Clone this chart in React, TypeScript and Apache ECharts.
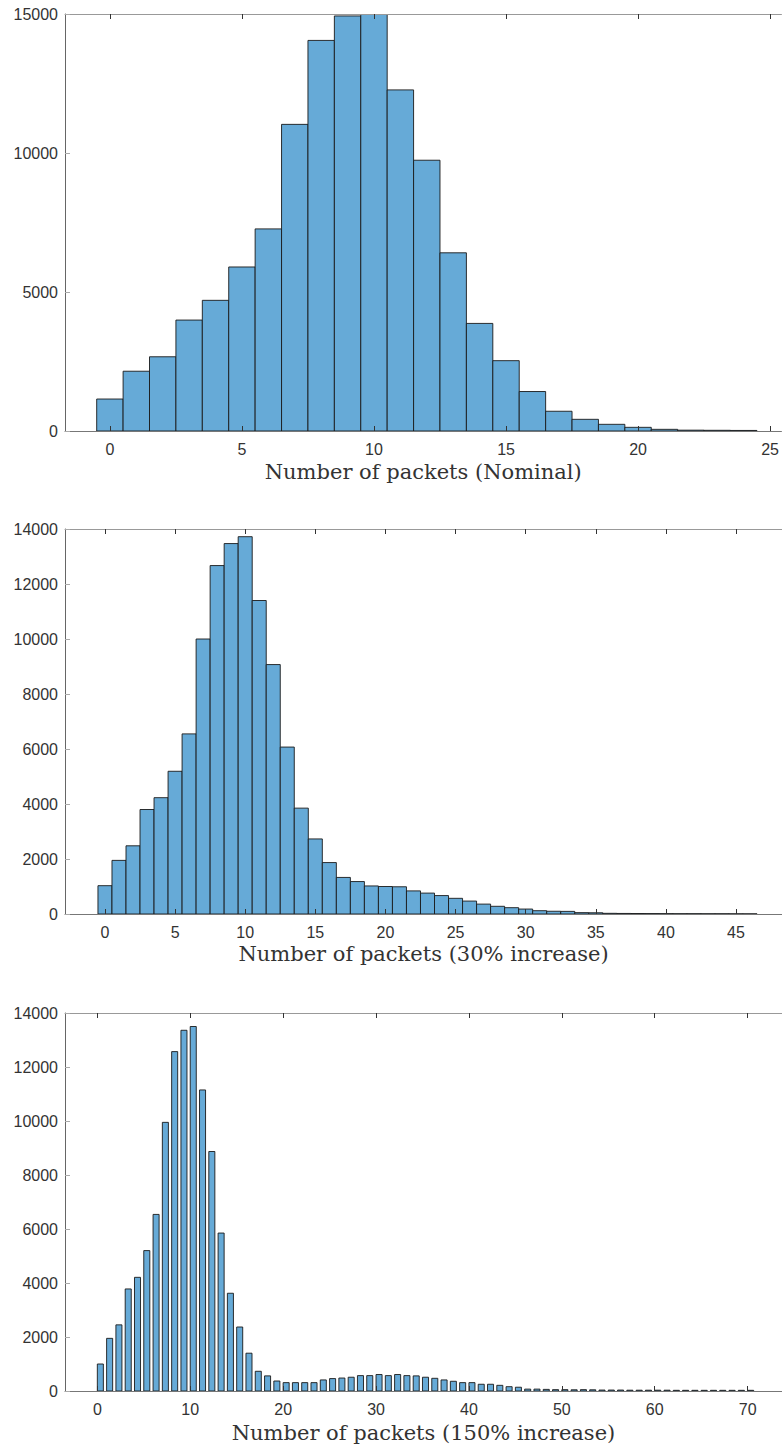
import React, { useEffect, useRef } from "react";
import * as echarts from "echarts";

// ---- data ----
const nominalCounts = [
  1150, 2150, 2670, 3990, 4700, 5900, 7270, 11030, 14050, 14930, 15000, 12270,
  9740, 6410, 3870, 2530, 1420, 710, 420, 240, 132, 60, 30, 25, 20,
];
const inc30Counts = [
  1030, 1950, 2480, 3800, 4230, 5190, 6550, 10000, 12670, 13470, 13720, 11400,
  9070, 6070, 3850, 2730, 1870, 1330, 1180, 1020, 1000, 990, 840, 760, 670, 570,
  470, 360, 280, 230, 180, 120, 100, 95, 50, 45, 25, 20, 18, 15, 12, 10, 10, 8, 8,
  6, 5,
];
const inc150Counts = [
  1000, 1950, 2450, 3780, 4210, 5200, 6540, 9950, 12570, 13360, 13500, 11150,
  8870, 5850, 3620, 2370, 1400, 730, 560, 370, 310, 310, 310, 310, 410, 460, 480,
  510, 570, 570, 610, 570, 610, 570, 560, 510, 470, 410, 360, 310, 310, 250, 250,
  210, 160, 140, 70, 70, 60, 50, 50, 45, 50, 45, 35, 35, 35, 30, 30, 30, 30, 30,
  25, 25, 25, 25, 25, 25, 25, 25, 25,
];

const nominalTicks = [0, 5, 10, 15, 20, 25];
const inc30Ticks = [0, 5, 10, 15, 20, 25, 30, 35, 40, 45];
const inc150Ticks = [0, 10, 20, 30, 40, 50, 60, 70];

const axisTitles = [
  "Number of packets (Nominal)",
  "Number of packets (30% increase)",
  "Number of packets (150% increase)",
];

const FILL = "#66AAD7";
const EDGE = "#1a1a1a";

function makeRender(left: number, right: number) {
  return (params: any, api: any) => {
    const x = api.value(0);
    const v = api.value(1);
    const p0 = api.coord([x + left, v]);
    const p1 = api.coord([x + right, 0]);
    return {
      type: "rect",
      shape: { x: p0[0], y: p0[1], width: p1[0] - p0[0], height: p1[1] - p0[1] },
      style: { fill: FILL, stroke: EDGE, lineWidth: 0.9 },
    };
  };
}

export default function App() {
  const ref = useRef<HTMLDivElement>(null);
  useEffect(() => {
    if (!ref.current) return;
    const chart = echarts.init(ref.current, undefined, { renderer: "svg" });
    const grids = [
      { left: 65, right: 0, top: 14, height: 417 },
      { left: 65, right: 0, top: 529, height: 385 },
      { left: 65, right: 0, top: 1013, height: 378 },
    ];
    const ranges = [
      [-1.7, 25.43],
      [-2.85, 48.28],
      [-3.48, 73.7],
    ];
    const ticks = [nominalTicks, inc30Ticks, inc150Ticks];
    const gaps = [30, 29, 31];
    const labelStyle = {
      fontFamily: "Liberation Sans, Arial, sans-serif",
      fontSize: 16,
      color: "#333",
      formatter: (v: number) => String(v),
    };
    const bottomAxes = [0, 1, 2].map((i) => ({
      type: "value",
      gridIndex: i,
      position: "bottom",
      min: ranges[i][0],
      max: ranges[i][1],
      z: 10,
      name: axisTitles[i],
      nameLocation: "middle",
      nameGap: gaps[i],
      nameTextStyle: {
        fontFamily: "DejaVu Serif, serif",
        fontSize: 21,
        color: "#333",
      },
      axisLine: { show: true, onZero: false, lineStyle: { color: "#777", width: 1 } },
      axisTick: {
        show: true,
        inside: true,
        length: 5,
        customValues: ticks[i],
        lineStyle: { color: "#333", width: 1 },
      },
      axisLabel: { ...labelStyle, margin: 10, customValues: ticks[i] },
      splitLine: { show: false },
    }));
    const topAxes = [0, 1, 2].map((i) => ({
      type: "value",
      gridIndex: i,
      position: "top",
      min: ranges[i][0],
      max: ranges[i][1],
      z: 10,
      axisLine: { show: true, onZero: false, lineStyle: { color: "#999", width: 1 } },
      axisTick: {
        show: true,
        inside: true,
        length: 5,
        customValues: ticks[i],
        lineStyle: { color: "#333", width: 1 },
      },
      axisLabel: { show: false },
      splitLine: { show: false },
    }));
    const yMax = [15000, 14000, 14000];
    const yInt = [5000, 2000, 2000];
    const yAxes = [0, 1, 2].map((i) => ({
      type: "value",
      gridIndex: i,
      position: "left",
      min: 0,
      max: yMax[i],
      interval: yInt[i],
      z: 10,
      axisLine: { show: true, onZero: false, lineStyle: { color: "#666", width: 1 } },
      axisTick: { show: true, inside: true, length: 5, lineStyle: { color: "#aaa" } },
      axisLabel: { ...labelStyle, margin: 7 },
      splitLine: { show: false },
    }));
    const toData = (arr: number[]) => arr.map((v, i) => [i, v]);
    const option = {
      animation: false,
      backgroundColor: "#fff",
      grid: grids,
      xAxis: [...bottomAxes, ...topAxes],
      yAxis: yAxes,
      series: [
        {
          type: "custom",
          xAxisIndex: 0,
          yAxisIndex: 0,
          clip: true,
          renderItem: makeRender(-0.5, 0.5),
          data: toData(nominalCounts),
        },
        {
          type: "custom",
          xAxisIndex: 1,
          yAxisIndex: 1,
          clip: true,
          renderItem: makeRender(-0.5, 0.5),
          data: toData(inc30Counts),
        },
        {
          type: "custom",
          xAxisIndex: 2,
          yAxisIndex: 2,
          clip: true,
          renderItem: makeRender(0, 0.65),
          data: toData(inc150Counts),
        },
      ],
    };
    chart.setOption(option as any);
    return () => chart.dispose();
  }, []);
  return (
    <div
      ref={ref}
      style={{ position: "absolute", left: 0, top: 0, width: 782, height: 1450, background: "#fff" }}
    />
  );
}
